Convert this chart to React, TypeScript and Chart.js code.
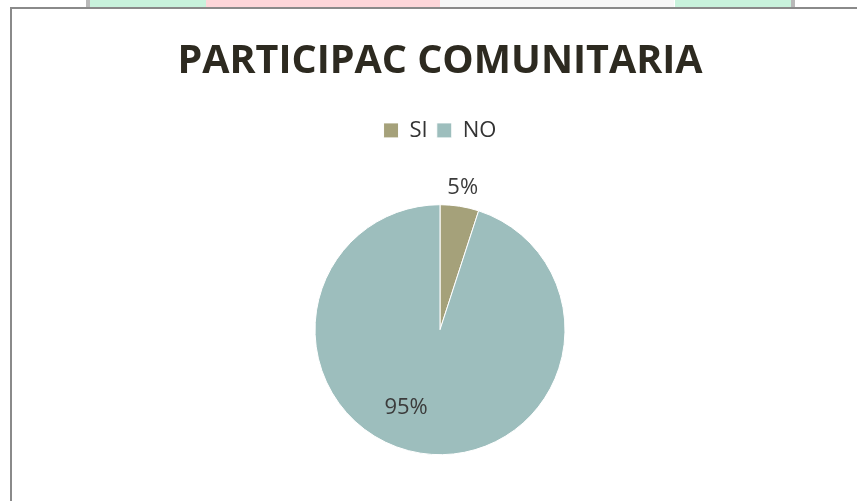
import React, { useEffect, useRef } from "react";
import { Chart, registerables } from "chart.js";

Chart.register(...registerables);

const categories = ["SI", "NO"];
const values = [5, 95];
const percentLabels = ["5%", "95%"];
const sliceColors = ["#A5A17A", "#9DBEBD"];
const titleText = "PARTICIPAC COMUNITARIA";

// label placement style per slice: radius factor and angle shift (radians)
const labelRadiusFactor = [1.16, 0.67];
const labelAngleShift = [0, 0.26];

const FONT = "'Open Sans', 'Noto Sans', sans-serif";

const labelPlugin = {
  id: "pctLabels",
  afterDatasetsDraw(chart: any) {
    const meta = chart.getDatasetMeta(0);
    const ctx = chart.ctx;
    ctx.save();
    ctx.font = `22px ${FONT}`;
    ctx.fillStyle = "#3b3b3b";
    ctx.textAlign = "center";
    ctx.textBaseline = "middle";
    meta.data.forEach((arc: any, i: number) => {
      const p = arc.getProps(["x", "y", "startAngle", "endAngle", "outerRadius"], true);
      const mid = (p.startAngle + p.endAngle) / 2 + labelAngleShift[i];
      const r = p.outerRadius * labelRadiusFactor[i];
      ctx.fillText(percentLabels[i], p.x + Math.cos(mid) * r, p.y + 1 + Math.sin(mid) * r);
    });
    ctx.restore();
  },
};

const strips = [
  { left: 86, width: 4, color: "#b9b9b9" },
  { left: 90, width: 116, color: "#c8f2dc" },
  { left: 206, width: 234, color: "#fdd6d9" },
  { left: 440, width: 234, color: "#f7f7f7" },
  { left: 675, width: 116, color: "#c8f2dc" },
  { left: 791, width: 4, color: "#b9b9b9" },
];

export default function App() {
  const ref = useRef<HTMLCanvasElement | null>(null);

  useEffect(() => {
    if (!ref.current) return;
    const chart = new Chart(ref.current, {
      type: "pie",
      data: {
        labels: categories,
        datasets: [
          {
            data: values,
            backgroundColor: sliceColors,
            borderColor: "#ffffff",
            borderWidth: 1,
            radius: 125,
          },
        ],
      },
      options: {
        responsive: false,
        animation: false,
        devicePixelRatio: 1,
        layout: { padding: { top: 0, left: 23, right: 0, bottom: 52 } },
        plugins: {
          title: {
            display: true,
            text: titleText,
            color: "#2d2a20",
            font: { family: FONT, size: 39.5, weight: "bold", lineHeight: 1.2 },
            padding: { top: 38, bottom: 25 },
          },
          legend: {
            display: true,
            position: "top",
            labels: {
              boxWidth: 15,
              boxHeight: 15,
              color: "#333333",
              font: { family: FONT, size: 22 },
              padding: 9,
            },
          },
          tooltip: { enabled: false },
        },
      },
      plugins: [labelPlugin],
    });
    return () => chart.destroy();
  }, []);

  return (
    <div
      style={{
        position: "fixed",
        left: 0,
        top: 0,
        width: 857,
        height: 501,
        overflow: "hidden",
        background: "#ffffff",
      }}
    >
      {strips.map((s, i) => (
        <div
          key={i}
          style={{
            position: "absolute",
            left: s.left,
            top: 0,
            width: s.width,
            height: 8,
            background: s.color,
          }}
        />
      ))}
      <div
        style={{
          position: "absolute",
          left: 10,
          top: 7,
          width: 1000,
          height: 700,
          border: "2px solid #8a8a8a",
          boxSizing: "border-box",
          background: "#ffffff",
        }}
      />
      <canvas
        ref={ref}
        width={857}
        height={560}
        style={{ position: "absolute", left: 0, top: 0, width: 857, height: 560 }}
      />
    </div>
  );
}
